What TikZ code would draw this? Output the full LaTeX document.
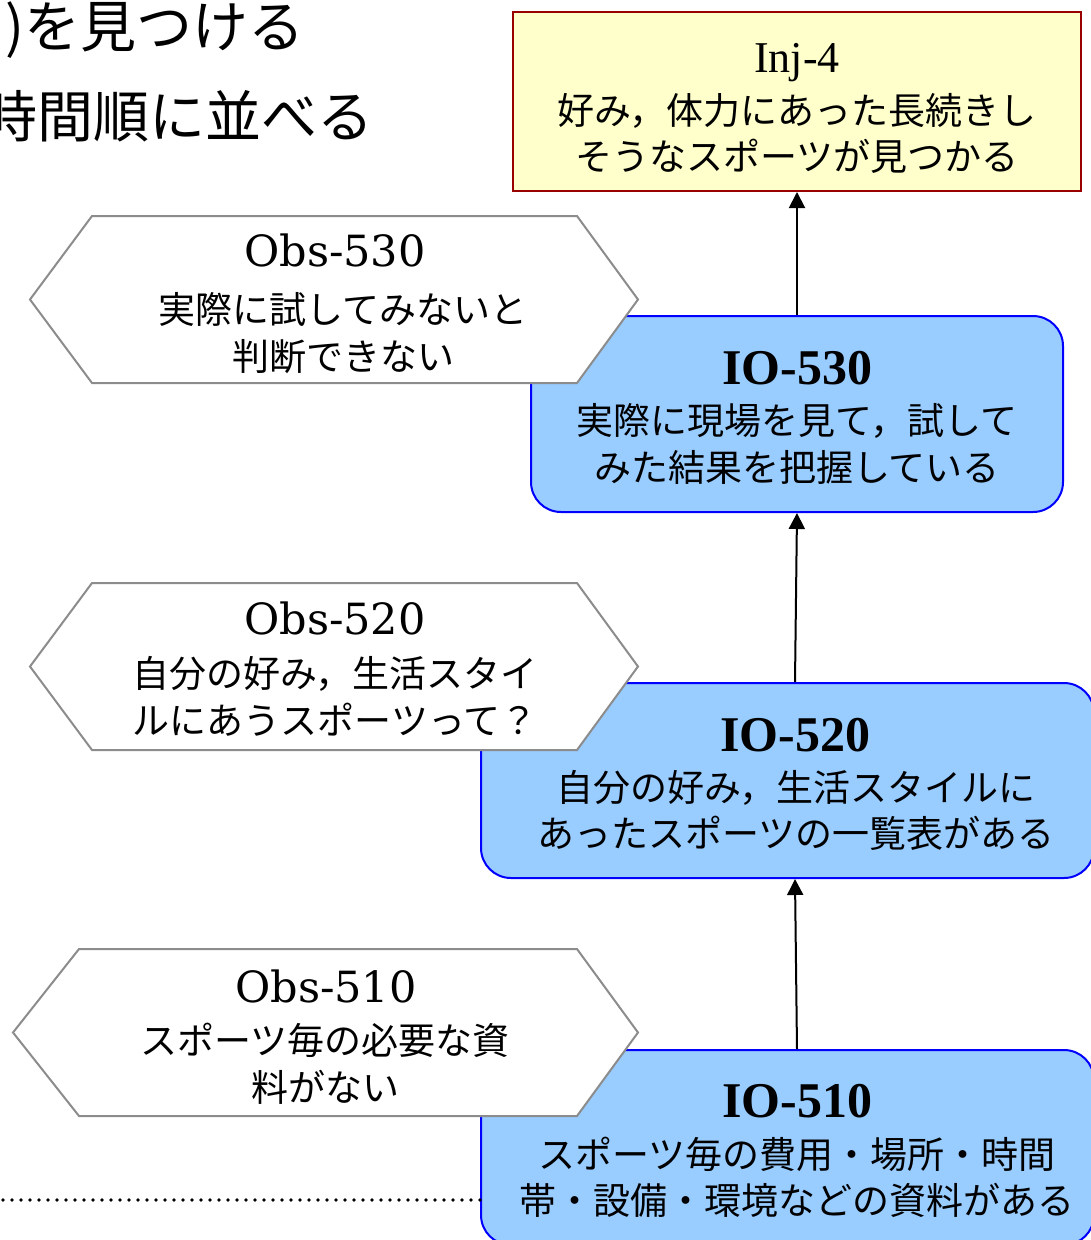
\documentclass[tikz,border=0pt]{standalone}
\usepackage{fontspec}
\newfontfamily\jpfont{Noto Sans CJK JP}
\newfontfamily\obsfont{DejaVu Serif}
\newfontfamily\iofont{Liberation Serif}
\usetikzlibrary{arrows.meta}
\definecolor{iofill}{HTML}{99CCFF}
\definecolor{ioline}{HTML}{0000FF}
\definecolor{injfill}{HTML}{FFFFCC}
\definecolor{injline}{HTML}{990000}
\definecolor{obsline}{HTML}{8C8C8C}
\begin{document}
\begin{tikzpicture}[x=1pt,y=-1pt,
  iobox/.style={draw=ioline, fill=iofill, line width=2pt, rounded corners=30pt, inner sep=0pt},
  injbox/.style={draw=injline, fill=injfill, line width=2pt, inner sep=0pt},
  hexa/.style={draw=obsline, fill=white, line width=2pt, line join=miter},
  jptext/.style={font=\jpfont\fontsize{37}{46.5}\selectfont, align=center, inner sep=0pt},
  headtext/.style={font=\jpfont\fontsize{56}{56}\selectfont, anchor=east, inner sep=0pt},
  iotitle/.style={font=\iofont\bfseries\fontsize{50}{50}\selectfont, inner sep=0pt, anchor=base},
  injtitle/.style={font=\iofont\fontsize{44}{44}\selectfont, inner sep=0pt, anchor=base},
  obstitle/.style={font=\obsfont\fontsize{43}{43}\selectfont, inner sep=0pt, anchor=base},
  arr/.style={line width=2pt, -{Triangle[length=16pt,width=16pt]}},
  dotline/.style={line width=3.6pt, line cap=round, dash pattern=on 0pt off 9pt}
]
\useasboundingbox (0,0) rectangle (1091,1240);
\clip (0,0) rectangle (1091,1240);

% heading text (partly cut off)
\node[headtext] (head1) at (305,30) {)を見つける};
\node[headtext] (head2) at (374,116) {時間順に並べる};

% boxes
\node[injbox, minimum width=568pt, minimum height=179pt] (inj4) at (797,101.5) {};
\node[iobox, minimum width=532pt, minimum height=196pt] (io530) at (797,414) {};
\node[iobox, minimum width=613pt, minimum height=195pt] (io520) at (787.5,780.5) {};
\node[iobox, minimum width=613pt, minimum height=195pt] (io510) at (787.5,1147.5) {};

% box texts
\node[injtitle] (inj4t) at (797,72) {Inj-4};
\node[jptext] (inj4x) at (797,133.5) {好み，体力にあった長続きし\\そうなスポーツが見つかる};
\node[iotitle] (io530t) at (797,384) {IO-530};
\node[jptext] (io530x) at (797,444) {実際に現場を見て，試して\\みた結果を把握している};
\node[iotitle] (io520t) at (795,751) {IO-520};
\node[jptext] (io520x) at (796,810.5) {自分の好み，生活スタイルに\\あったスポーツの一覧表がある};
\node[iotitle] (io510t) at (797,1117) {IO-510};
\node[jptext] (io510x) at (797,1177.5) {スポーツ毎の費用・場所・時間\\帯・設備・環境などの資料がある};

% hexagons (observations)
\draw[hexa] (30,299.5) -- (92,216) -- (577,216) -- (638,299.5) -- (577,383) -- (92,383) -- cycle;
\draw[hexa] (30,666.5) -- (92,583) -- (577,583) -- (638,666.5) -- (577,750) -- (92,750) -- cycle;
\draw[hexa] (13,1032.5) -- (79,949) -- (577,949) -- (638,1032.5) -- (577,1116) -- (79,1116) -- cycle;

\node[obstitle] (obs530t) at (335,266) {Obs-530};
\node[jptext] (obs530x) at (343,333) {実際に試してみないと\\判断できない};
\node[obstitle] (obs520t) at (335,634) {Obs-520};
\node[jptext] (obs520x) at (335,696.5) {自分の好み，生活スタイ\\ルにあうスポーツって？};
\node[obstitle] (obs510t) at (326,1002) {Obs-510};
\node[jptext] (obs510x) at (325,1063.5) {スポーツ毎の必要な資\\料がない};

% connectors
\draw[arr] (io530.north) -- (inj4.south);
\draw[arr] ([xshift=7.5pt]io520.north) -- (io530.south);
\draw[arr] ([xshift=9.5pt]io510.north) -- ([xshift=7.5pt]io520.south);

% dotted line
\coordinate (dotl) at (3,1200);
\draw[dotline] (dotl) -- (dotl -| io510.west);
\end{tikzpicture}
\end{document}
